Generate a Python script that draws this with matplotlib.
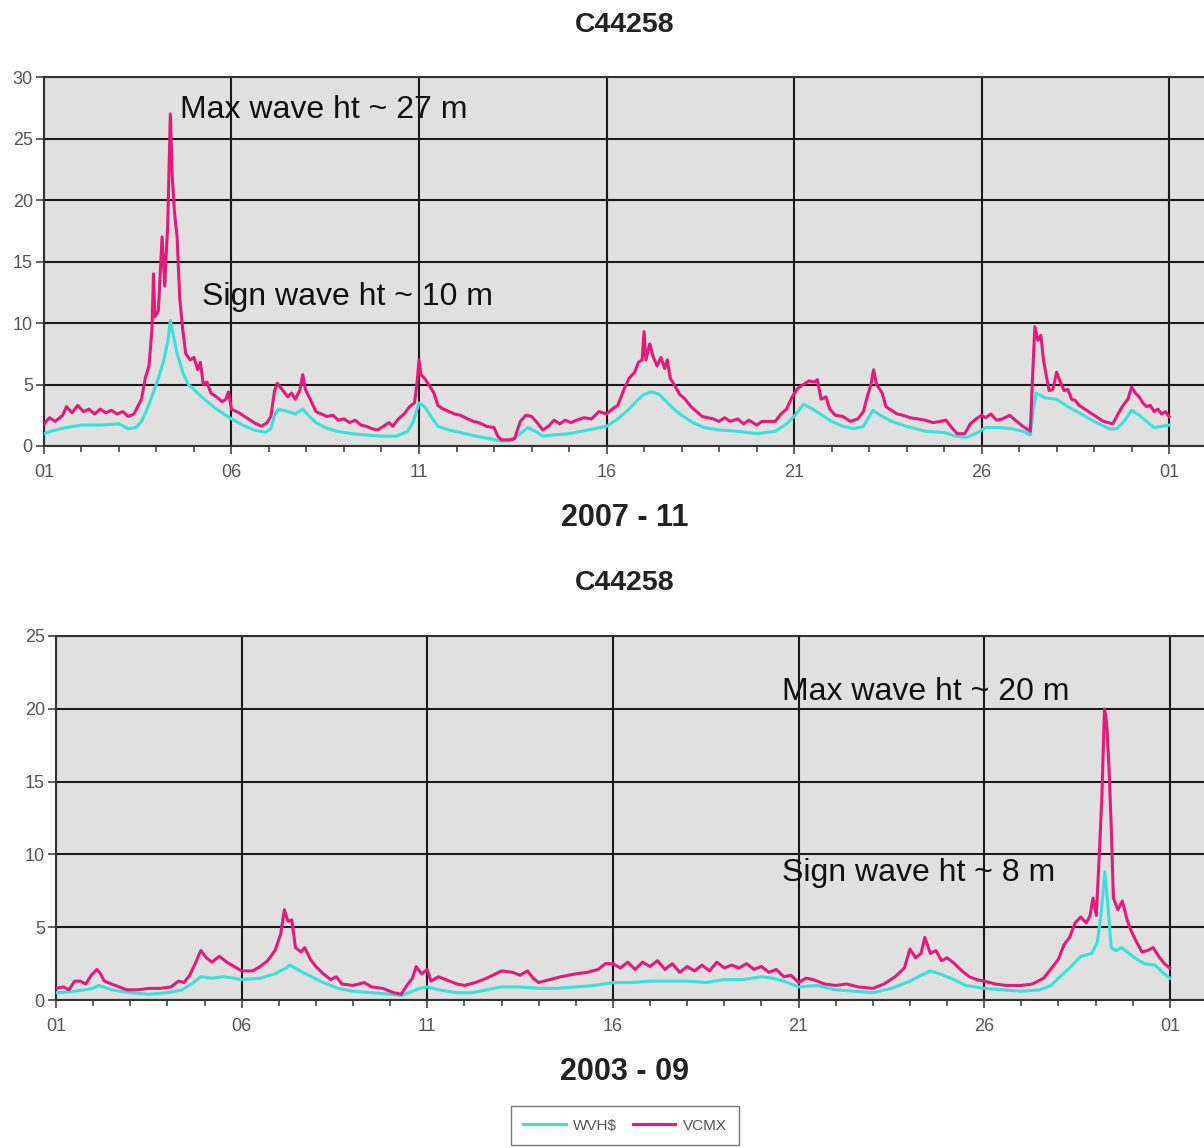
import matplotlib.pyplot as plt
from matplotlib.ticker import MultipleLocator

plt.rcParams['font.family'] = ['Liberation Sans', 'DejaVu Sans']

# ---- data: days after the 1st of the month ----
station = 'C44258'
x_tick_labels = ['01', '06', '11', '16', '21', '26', '01']

# 2007-11, VCMX (max wave height)
nov_vcmx_day = [0.0, 0.15, 0.3, 0.5, 0.6, 0.75, 0.9, 1.05, 1.2, 1.35, 1.5, 1.65, 1.8, 1.95, 2.1, 2.25, 2.4, 2.5,
                2.6, 2.7, 2.8, 2.88, 2.92, 2.96, 3.05, 3.15, 3.22, 3.3, 3.37, 3.42, 3.48, 3.55, 3.62, 3.7, 3.78,
                3.9, 4.0, 4.1, 4.17, 4.25, 4.35, 4.45, 4.6, 4.75, 4.85, 4.92, 5.0, 5.2, 5.4, 5.6, 5.8, 5.95, 6.05,
                6.15, 6.22, 6.35, 6.5, 6.6, 6.7, 6.82, 6.9, 6.97, 7.1, 7.25, 7.4, 7.55, 7.7, 7.85, 8.0, 8.15, 8.3,
                8.45, 8.6, 8.75, 8.9, 9.05, 9.2, 9.3, 9.45, 9.6, 9.75, 9.88, 9.95, 10.0, 10.05, 10.15, 10.3, 10.4,
                10.5, 10.65, 10.8, 10.95, 11.1, 11.3, 11.45, 11.6, 11.8, 12.0, 12.1, 12.2, 12.4, 12.55, 12.7,
                12.85, 13.0, 13.15, 13.3, 13.45, 13.6, 13.75, 13.9, 14.05, 14.2, 14.4, 14.6, 14.8, 15.0, 15.15,
                15.3, 15.45, 15.6, 15.75, 15.85, 15.95, 16.0, 16.05, 16.15, 16.25, 16.35, 16.45, 16.55, 16.62,
                16.7, 16.8, 16.95, 17.1, 17.25, 17.4, 17.55, 17.7, 17.85, 18.0, 18.15, 18.3, 18.5, 18.65, 18.8,
                19.0, 19.15, 19.3, 19.5, 19.65, 19.8, 19.95, 20.1, 20.25, 20.4, 20.55, 20.62, 20.72, 20.85, 20.95,
                21.1, 21.3, 21.5, 21.7, 21.85, 21.95, 22.05, 22.12, 22.2, 22.35, 22.45, 22.6, 22.75, 22.9, 23.1,
                23.3, 23.5, 23.7, 23.9, 24.05, 24.2, 24.35, 24.55, 24.7, 24.85, 25.0, 25.1, 25.25, 25.4, 25.55,
                25.75, 25.9, 26.1, 26.3, 26.35, 26.42, 26.5, 26.58, 26.65, 26.72, 26.8, 26.9, 27.0, 27.1, 27.2,
                27.3, 27.4, 27.5, 27.6, 27.75, 28.0, 28.25, 28.5, 28.62, 28.75, 28.9, 29.0, 29.1, 29.2, 29.3,
                29.4, 29.5, 29.6, 29.7, 29.8, 29.9, 30.0]
nov_vcmx = [1.8, 2.3, 2.0, 2.5, 3.2, 2.7, 3.3, 2.8, 3.0, 2.6, 3.0, 2.7, 2.9, 2.6, 2.8, 2.4, 2.6, 3.2,
            3.8, 5.5, 6.5, 9.5, 14.0, 10.5, 11.0, 17.0, 13.0, 18.0, 27.0, 22.0, 19.0, 17.0, 12.0, 9.5, 7.5,
            7.0, 7.2, 6.2, 6.8, 5.0, 5.2, 4.3, 4.0, 3.6, 3.8, 4.4, 3.0, 2.7, 2.3, 1.9, 1.6, 1.9, 2.4,
            4.5, 5.1, 4.6, 4.0, 4.3, 3.8, 4.5, 5.8, 4.6, 3.8, 2.8, 2.6, 2.4, 2.5, 2.1, 2.2, 1.9, 2.1,
            1.7, 1.6, 1.4, 1.3, 1.6, 1.9, 1.6, 2.2, 2.6, 3.2, 3.5, 5.2, 7.0, 5.8, 5.5, 4.8, 4.3,
            3.3, 3.0, 2.8, 2.6, 2.5, 2.2, 2.0, 1.9, 1.6, 1.5, 0.8, 0.5, 0.5, 0.6, 2.0,
            2.5, 2.4, 1.9, 1.3, 1.6, 2.1, 1.8, 2.1, 1.9, 2.1, 2.3, 2.2, 2.8, 2.6, 3.0,
            3.3, 4.5, 5.5, 6.0, 6.8, 7.0, 9.3, 7.0, 8.3, 7.2, 6.5, 7.2, 6.3, 7.0,
            5.5, 5.0, 4.2, 3.8, 3.2, 2.8, 2.4, 2.3, 2.2, 2.0, 2.3, 2.0, 2.2, 1.8, 2.1,
            1.7, 2.0, 2.0, 2.0, 2.6, 3.0, 4.0, 4.7, 5.0, 5.3, 5.2, 5.4, 3.8, 4.0, 3.0,
            2.5, 2.4, 2.0, 2.2, 2.8, 4.0, 5.0, 6.2, 5.0, 4.3, 3.2, 2.9, 2.6, 2.5, 2.3,
            2.2, 2.1, 1.9, 2.0, 2.1, 1.5, 1.0, 1.0, 1.8, 2.2, 2.5, 2.3, 2.6, 2.1, 2.2,
            2.5, 2.1, 1.6, 1.2, 5.0, 9.7, 8.6, 9.0, 7.0, 5.8, 4.5, 4.6, 6.0, 5.2, 4.5,
            4.6, 3.8, 3.7, 3.3, 3.0, 2.5, 2.0, 1.8, 2.5, 3.2, 3.8, 4.8, 4.3, 4.0, 3.5,
            3.2, 3.3, 2.8, 3.0, 2.6, 2.8, 2.4]

# 2007-11, WVHS (significant wave height)
nov_wvhs_day = [0.0, 0.3, 0.6, 1.0, 1.5, 2.0, 2.25, 2.45, 2.6, 2.75, 2.9, 3.05, 3.2, 3.3, 3.37, 3.45, 3.55,
                3.7, 3.85, 4.0, 4.2, 4.4, 4.6, 4.8, 5.0, 5.3, 5.6, 5.9, 6.05, 6.15, 6.25, 6.5, 6.7, 6.9, 7.05,
                7.25, 7.5, 7.8, 8.2, 8.6, 9.0, 9.4, 9.7, 9.85, 10.0, 10.15, 10.3, 10.5, 10.8, 11.1, 11.5, 11.9,
                12.2, 12.45, 12.7, 12.9, 13.1, 13.3, 13.6, 14.0, 14.5, 15.0, 15.3, 15.6, 15.85, 16.0, 16.2, 16.4,
                16.6, 16.8, 17.0, 17.3, 17.6, 18.0, 18.5, 19.0, 19.5, 19.8, 20.0, 20.25, 20.5, 20.8, 21.0, 21.3,
                21.6, 21.85, 22.1, 22.3, 22.6, 23.0, 23.5, 24.0, 24.3, 24.6, 24.9, 25.1, 25.5, 25.8, 26.1, 26.3,
                26.38, 26.45, 26.7, 27.0, 27.3, 27.6, 28.0, 28.4, 28.6, 28.8, 29.0, 29.2, 29.4, 29.6, 29.8, 30.0]
nov_wvhs = [1.0, 1.3, 1.5, 1.7, 1.7, 1.8, 1.4, 1.5, 2.0, 3.0, 4.2, 5.5, 7.0, 8.5, 10.2, 9.0, 7.5,
            6.0, 5.0, 4.6, 4.0, 3.5, 3.0, 2.6, 2.2, 1.7, 1.3, 1.1, 1.4, 2.5, 3.0, 2.8, 2.6, 3.0, 2.5,
            1.9, 1.5, 1.2, 1.0, 0.9, 0.8, 0.8, 1.2, 2.0, 3.5, 3.2, 2.5, 1.6, 1.3, 1.1, 0.8, 0.6,
            0.4, 0.4, 1.0, 1.5, 1.2, 0.8, 0.9, 1.0, 1.3, 1.6, 2.2, 3.0, 3.8, 4.2, 4.4, 4.2,
            3.6, 3.0, 2.5, 1.9, 1.5, 1.3, 1.2, 1.0, 1.2, 1.8, 2.4, 3.4, 3.0, 2.4, 2.0, 1.6,
            1.4, 1.6, 2.9, 2.5, 2.0, 1.6, 1.2, 1.1, 0.8, 0.7, 1.1, 1.5, 1.5, 1.4, 1.2, 0.9,
            3.0, 4.3, 3.9, 3.8, 3.2, 2.7, 2.0, 1.4, 1.4, 2.0, 2.9, 2.5, 2.0, 1.5, 1.6, 1.7]

# 2003-09, VCMX
sep_vcmx_day = [0.0, 0.2, 0.35, 0.5, 0.65, 0.8, 0.95, 1.1, 1.2, 1.3, 1.5, 1.7, 1.9, 2.2, 2.5, 2.8, 3.1, 3.3,
                3.45, 3.6, 3.75, 3.9, 4.05, 4.2, 4.4, 4.6, 4.8, 5.0, 5.3, 5.5, 5.7, 5.9, 6.05, 6.15, 6.25, 6.35,
                6.45, 6.6, 6.7, 6.85, 7.0, 7.2, 7.4, 7.55, 7.7, 8.0, 8.3, 8.5, 8.8, 9.1, 9.3, 9.45, 9.6, 9.7,
                9.85, 10.0, 10.1, 10.3, 10.5, 10.8, 11.0, 11.3, 11.6, 12.0, 12.3, 12.5, 12.7, 12.85, 13.0, 13.3,
                13.6, 14.0, 14.3, 14.6, 14.8, 15.0, 15.2, 15.4, 15.6, 15.8, 16.0, 16.2, 16.4, 16.6, 16.8, 17.0,
                17.2, 17.4, 17.6, 17.8, 18.0, 18.2, 18.4, 18.6, 18.8, 19.0, 19.2, 19.4, 19.6, 19.8, 20.0, 20.2,
                20.4, 20.7, 21.0, 21.3, 21.6, 22.0, 22.3, 22.6, 22.85, 23.0, 23.15, 23.3, 23.4, 23.55, 23.7,
                23.85, 24.0, 24.2, 24.4, 24.6, 24.8, 25.0, 25.3, 25.6, 26.0, 26.3, 26.6, 26.85, 27.0, 27.15,
                27.3, 27.45, 27.6, 27.75, 27.85, 27.93, 28.02, 28.1, 28.17, 28.24, 28.3, 28.36, 28.42, 28.48,
                28.6, 28.72, 28.85, 28.95, 29.1, 29.25, 29.4, 29.55, 29.7, 29.85, 30.0]
sep_vcmx = [0.8, 0.9, 0.7, 1.3, 1.3, 1.1, 1.7, 2.1, 1.8, 1.3, 1.1, 0.9, 0.7, 0.7, 0.8, 0.8, 0.9, 1.3,
            1.2, 1.7, 2.5, 3.4, 2.9, 2.6, 3.0, 2.6, 2.3, 2.0, 2.0, 2.3, 2.7, 3.4, 4.5, 6.2, 5.4, 5.5,
            3.6, 3.3, 3.6, 2.8, 2.3, 1.8, 1.4, 1.6, 1.1, 1.0, 1.2, 0.9, 0.8, 0.5, 0.4, 1.0, 1.5, 2.3,
            1.8, 2.1, 1.3, 1.6, 1.4, 1.1, 1.0, 1.2, 1.5, 2.0, 1.9, 1.7, 2.0, 1.5, 1.2, 1.4,
            1.6, 1.8, 1.9, 2.1, 2.5, 2.5, 2.2, 2.6, 2.1, 2.6, 2.3, 2.7, 2.1, 2.5, 1.9, 2.3,
            2.0, 2.4, 2.0, 2.6, 2.2, 2.4, 2.2, 2.5, 2.1, 2.3, 1.9, 2.1, 1.6, 1.7, 1.2, 1.5,
            1.4, 1.1, 1.0, 1.1, 0.9, 0.8, 1.1, 1.6, 2.2, 3.5, 2.9, 3.2, 4.3, 3.2, 3.4,
            2.7, 2.9, 2.5, 2.0, 1.6, 1.4, 1.3, 1.1, 1.0, 1.0, 1.1, 1.5, 2.3, 2.8, 3.8,
            4.3, 5.3, 5.7, 5.3, 5.8, 7.0, 5.8, 10.0, 14.0, 20.0, 19.0, 16.0, 12.0, 7.0,
            6.2, 6.8, 5.5, 4.8, 4.0, 3.3, 3.4, 3.6, 3.0, 2.5, 2.2]

# 2003-09, WVHS
sep_wvhs_day = [0.0, 0.5, 1.0, 1.15, 1.5, 2.0, 2.5, 3.0, 3.4, 3.7, 3.9, 4.2, 4.5, 4.8, 5.0, 5.5, 5.9, 6.2,
                6.3, 6.5, 6.8, 7.2, 7.6, 8.0, 8.5, 9.0, 9.3, 9.6, 9.8, 10.0, 10.3, 10.8, 11.2, 11.6, 12.0, 12.5,
                13.0, 13.5, 14.0, 14.5, 15.0, 15.5, 16.0, 16.5, 17.0, 17.5, 18.0, 18.5, 19.0, 19.3, 19.6, 20.0,
                20.5, 21.0, 21.5, 22.0, 22.5, 23.0, 23.3, 23.55, 23.8, 24.1, 24.5, 25.0, 25.5, 26.0, 26.5, 26.8,
                27.0, 27.3, 27.6, 27.9, 28.05, 28.15, 28.25, 28.33, 28.42, 28.55, 28.7, 29.0, 29.3, 29.6, 29.8,
                30.0]
sep_wvhs = [0.5, 0.6, 0.8, 1.0, 0.7, 0.5, 0.4, 0.5, 0.7, 1.2, 1.6, 1.5, 1.6, 1.5, 1.4, 1.5, 1.8, 2.2,
            2.4, 2.1, 1.7, 1.2, 0.8, 0.6, 0.5, 0.4, 0.3, 0.6, 0.8, 0.9, 0.7, 0.5, 0.5, 0.7, 0.9, 0.9,
            0.8, 0.8, 0.9, 1.0, 1.2, 1.2, 1.3, 1.3, 1.3, 1.2, 1.4, 1.4, 1.6, 1.5, 1.3, 0.9,
            1.0, 0.7, 0.6, 0.5, 0.8, 1.3, 1.7, 2.0, 1.8, 1.5, 1.0, 0.8, 0.7, 0.6, 0.7, 1.0,
            1.5, 2.2, 3.0, 3.2, 4.0, 6.0, 8.8, 6.5, 3.6, 3.4, 3.6, 3.0, 2.5, 2.4, 1.9,
            1.5]

panels = [
    (nov_wvhs_day, nov_wvhs, nov_vcmx_day, nov_vcmx, '2007 - 11', 30, 5,
     [(3.62, 27.3, 'Max wave ht ~ 27 m'), (4.21, 12.1, 'Sign wave ht ~ 10 m')]),
    (sep_wvhs_day, sep_wvhs, sep_vcmx_day, sep_vcmx, '2003 - 09', 25, 5,
     [(19.55, 21.15, 'Max wave ht ~ 20 m'), (19.55, 8.72, 'Sign wave ht ~ 8 m')]),
]

cyan = '#38e2dc'
magenta = '#e8187a'

fig = plt.figure(figsize=(12.04, 11.48), dpi=100)
ax_boxes = [[0.0365, 0.6115, 0.9635, 0.3214], [0.0465, 0.1289, 0.9535, 0.3171]]
x_ends = [30.93, 30.92]
title_y = [0.978, 0.492]
label_y = [0.549, 0.066]

for i, (wd, wv, md, mv, xlab, ymax, ystep, notes) in enumerate(panels):
    ax = fig.add_axes(ax_boxes[i])
    ax.set_facecolor('#e0e0e0')
    ax.plot(wd, wv, color=cyan, lw=2.2, label='WVH$', zorder=3)
    ax.plot(md, mv, color=magenta, lw=2.2, label='VCMX', zorder=4)
    ax.set_xlim(0, x_ends[i])
    ax.set_ylim(0, ymax)
    ax.set_xticks(range(0, 31, 5))
    ax.set_xticklabels(x_tick_labels)
    ax.xaxis.set_minor_locator(MultipleLocator(1))
    ax.yaxis.set_major_locator(MultipleLocator(ystep))
    ax.grid(True, which='major', color='#1a1a1a', lw=1.5, zorder=1)
    ax.set_axisbelow(True)
    ax.tick_params(axis='both', which='major', direction='out', length=6, width=1.2,
                   colors='#444444', labelsize=13, labelcolor='#555555')
    ax.tick_params(axis='y', which='major', pad=2)
    ax.tick_params(axis='x', which='major', pad=7)
    ax.tick_params(axis='x', which='minor', direction='out', length=4, width=1.2, colors='#444444')
    for side in ['left', 'top', 'bottom']:
        ax.spines[side].set_color('#333333')
        ax.spines[side].set_linewidth(1.5)
    ax.spines['right'].set_visible(False)
    for nx, ny, txt in notes:
        ax.text(nx, ny, txt, fontsize=23, va='center', ha='left', color='#111111', zorder=5)
    fig.text(0.519, title_y[i], station, ha='center', va='center', fontsize=20.5, fontweight='bold',
             color='#222222')
    fig.text(0.519, label_y[i], xlab, ha='center', va='center', fontsize=22, fontweight='bold',
             color='#222222')
    if i == 1:
        handles, labels = ax.get_legend_handles_labels()

fig.legend(handles, labels, loc='center', bbox_to_anchor=(0.519, 0.0195), ncol=2, fontsize=11,
           frameon=True, fancybox=False, edgecolor='#555555', handlelength=2.8, handletextpad=0.5,
           columnspacing=1.0, borderpad=0.8, labelcolor='#555555')

plt.savefig('out.png', dpi=100)
